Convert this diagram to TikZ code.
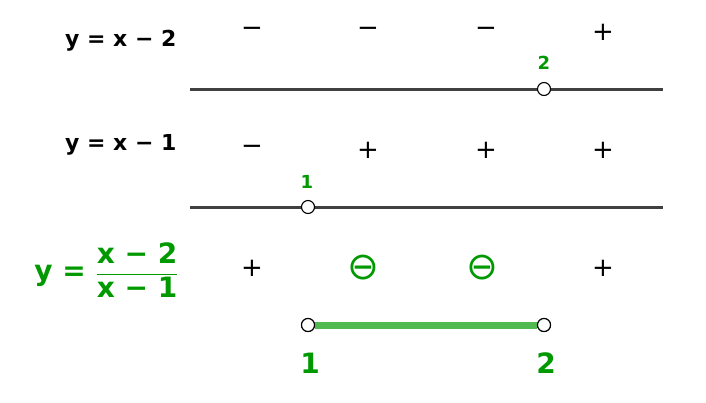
\documentclass[tikz,border=0pt]{standalone}
\usepackage{fontspec}
\setmainfont{DejaVu Sans}
\definecolor{gg}{RGB}{0,153,0}
\definecolor{lg}{RGB}{80,185,80}
\definecolor{ln}{RGB}{64,64,64}
\begin{document}
\begin{tikzpicture}[x=1pt,y=-1pt,
  axis/.style={ln,line width=3pt},
  pt/.style={circle,draw=black,fill=white,line width=1.1pt,inner sep=0pt,minimum size=13pt},
  sg/.style={font=\fontsize{26}{26}\selectfont},
  sgg/.style={font=\fontsize{38}{38}\selectfont,text=gg},
  lab/.style={font=\bfseries\fontsize{22}{22}\selectfont},
  glab/.style={font=\bfseries\fontsize{18}{18}\selectfont,text=gg},
  blab/.style={font=\bfseries\fontsize{28}{28}\selectfont,text=gg}]
\useasboundingbox (0,0) rectangle (706,402);
\coordinate (a1) at (190,89); \coordinate (b1) at (663,89);
\coordinate (a2) at (190,207); \coordinate (b2) at (663,207);
\draw[axis] (a1) -- (b1);
\draw[axis] (a2) -- (b2);
\node[pt] (p2) at (544,89) {};
\node[pt] (p1) at (308,207) {};
\node[glab] (l2) at (544,63) {2};
\node[glab] (l1) at (307,182) {1};
\node[pt] (q1) at (308,325) {};
\node[pt] (q2) at (544,325) {};
\draw[lg,line width=7pt] (q1) -- (q2);
\node[pt] at (308,325) {};
\node[pt] at (544,325) {};
\node[blab] (m1) at (310,363) {1};
\node[blab] (m2) at (546,363) {2};
\node[lab,anchor=east] (e1) at (180,41) {y = x − 2};
\node[lab,anchor=east] (e2) at (180,145) {y = x − 1};
\node[blab,anchor=east] (e3) at (182,270) {y = $\displaystyle\frac{\mbox{x − 2}}{\mbox{x − 1}}$};
\foreach \x/\s [count=\i] in {252/−,368/−,486/−,603/+} \node[sg] (r1\i) at (\x,32) {\s};
\foreach \x/\s [count=\i] in {252/−,368/+,486/+,603/+} \node[sg] (r2\i) at (\x,150) {\s};
\node[sg] (r31) at (252,268) {+};
\node[sgg] (r32) at (363,268) {⊖};
\node[sgg] (r33) at (482,268) {⊖};
\node[sg] (r34) at (603,268) {+};
\end{tikzpicture}
\end{document}
